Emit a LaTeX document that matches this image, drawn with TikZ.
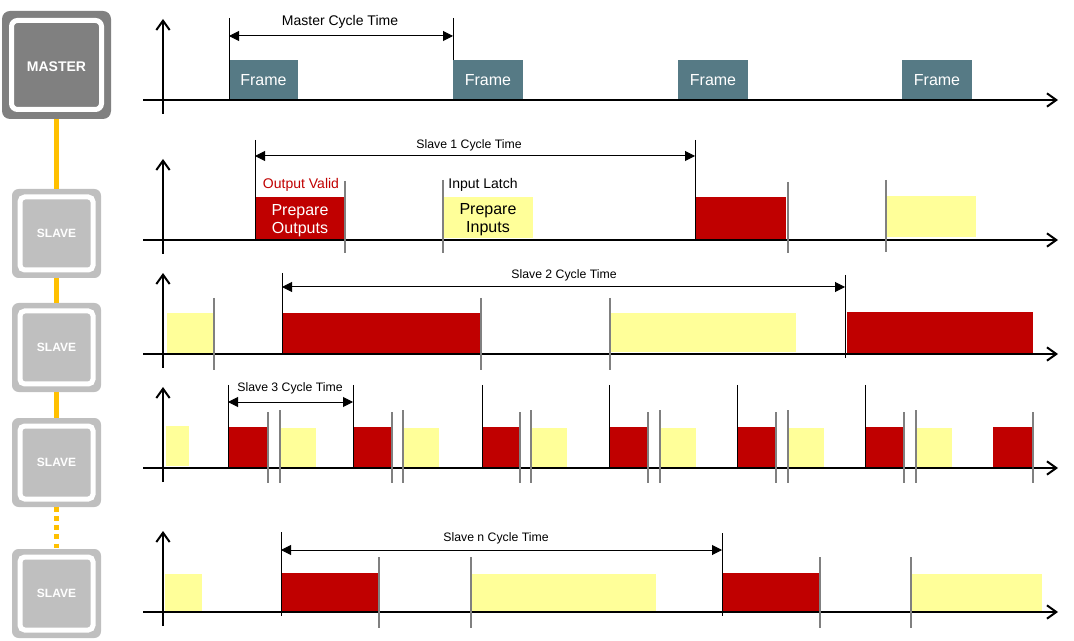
\documentclass[tikz,border=0pt]{standalone}
\usepackage{fontspec}
\setmainfont{Liberation Sans}
\usetikzlibrary{arrows.meta}
\definecolor{mgray}{HTML}{808080}
\definecolor{sgray}{HTML}{BFBFBF}
\definecolor{linkc}{HTML}{FFC000}
\definecolor{teal}{HTML}{567A85}
\definecolor{dred}{HTML}{C00000}
\definecolor{lyel}{HTML}{FFFF99}
\definecolor{mgrayline}{HTML}{808080}
\newcommand{\blk}[7]{\node[#6,anchor=north west,minimum width={(#4-(#2))*0.75pt},minimum height={(#5-(#3))*0.75pt}] (#1) at (#2,#3) {#7};}
\newcommand{\bline}[3]{\draw[blackmark] (#1,#2) -- (#1,#3);}
\newcommand{\gline}[3]{\draw[graymark] (#1,#2) -- (#1,#3);}
\newcommand{\axes}[1]{\draw[axis] (143,#1) -- (1058,#1); \draw[axis] (163,#1+14) -- (163,#1-81);}
\tikzset{
  box/.style={inner sep=0pt, outer sep=0pt},
  framebox/.style={box, fill=teal, text=white, font=\fontsize{12pt}{13.5pt}\selectfont},
  redbox/.style={box, fill=dred, text=white, align=center, font=\fontsize{12pt}{13.5pt}\selectfont},
  yelbox/.style={box, fill=lyel, text=black, align=center, font=\fontsize{12pt}{13.5pt}\selectfont},
  boxtext/.style={inner sep=0pt, align=center, yshift=-1.5pt, font=\fontsize{12pt}{14pt}\selectfont},
  axis/.style={line width=1.5pt, -{Straight Barb[length=7pt,width=10pt]}},
  blackmark/.style={line width=0.75pt, black},
  graymark/.style={line width=1.1pt, mgrayline},
  cyc/.style={line width=0.75pt, {Triangle[length=7.5pt,width=7.5pt]}-{Triangle[length=7.5pt,width=7.5pt]}},
  cyclabel/.style={inner sep=0pt, font=\fontsize{9.2pt}{10pt}\selectfont},
  smalllabel/.style={inner sep=0pt, font=\fontsize{10.5pt}{12pt}\selectfont},
  outerm/.style={fill=mgray, rounded corners=6pt, minimum width=81.75pt, minimum height=81pt, inner sep=0pt},
  innerm/.style={fill=mgray, draw=white, line width=3.75pt, rounded corners=4.5pt, minimum width=67.5pt, minimum height=66.75pt, inner sep=0pt},
  mtext/.style={inner sep=0pt, yshift=-1pt, text=white, font=\bfseries\fontsize{10.5pt}{12pt}\selectfont},
  outers/.style={fill=sgray, rounded corners=5pt, minimum width=66.75pt, minimum height=66.75pt, inner sep=0pt},
  inners/.style={fill=sgray, draw=white, line width=3.75pt, rounded corners=3.5pt, minimum width=54.75pt, minimum height=54.75pt, inner sep=0pt, text=white, font=\bfseries\fontsize{9pt}{10pt}\selectfont},
  link/.style={line width=3.75pt, linkc},
  dlink/.style={link, dash pattern=on 3.4pt off 3.4pt},
}
\begin{document}
\begin{tikzpicture}[x=0.75pt,y=-0.75pt]
\useasboundingbox (0,0) rectangle (1074,641);
% ---------- left column ----------
\node[outerm] (master) at (56.5,65) {};
\node[innerm, label={[mtext]center:MASTER}] (masterin) at (master.center) {};
\node[outers] (s1) at (56.5,233.5) {};
\node[inners] (s1i) at (s1.center) {SLAVE};
\node[outers] (s2) at (56.5,347.5) {};
\node[inners] (s2i) at (s2.center) {SLAVE};
\node[outers] (s3) at (56.5,462.5) {};
\node[inners] (s3i) at (s3.center) {SLAVE};
\node[outers] (s4) at (56.5,593.5) {};
\node[inners] (s4i) at (s4.center) {SLAVE};
\draw[link] (master.south) -- (s1.north);
\draw[link] (s1.south) -- (s2.north);
\draw[link] (s2.south) -- (s3.north);
\draw[dlink] (s3.south) -- (s4.north);
% ---------- master row ----------
\blk{f1}{229}{60}{298}{100}{framebox}{Frame}
\blk{f2}{453}{60}{523}{100}{framebox}{Frame}
\blk{f3}{678}{60}{748}{100}{framebox}{Frame}
\blk{f4}{902}{60}{972}{100}{framebox}{Frame}
\axes{100}
\bline{229}{18}{100}
\bline{453}{18}{60}
\coordinate (ma) at (229,36);
\coordinate (mb) at (453,36);
\draw[cyc] (ma) -- (mb);
\node[smalllabel] (mlab) at (340,21.5) {Master Cycle Time};
% ---------- slave 1 row ----------
\blk{r11}{255}{197}{345}{240}{redbox}{}
\node[boxtext, text=white] (r11t) at (r11.center) {Prepare\\Outputs};
\blk{y11}{443}{197}{533}{238}{yelbox}{}
\node[boxtext, text=black] (y11t) at (y11.center) {Prepare\\Inputs};
\blk{r12}{696}{197}{786}{240}{redbox}{}
\blk{y12}{887}{196}{976}{237}{yelbox}{}
\axes{240}
\bline{255}{140}{240}
\bline{695}{140}{240}
\gline{345}{181}{253}
\gline{443}{180}{253}
\gline{788}{182}{253}
\gline{886}{180}{252}
\coordinate (s1a) at (255,156);
\coordinate (s1b) at (695,156);
\draw[cyc] (s1a) -- (s1b);
\node[cyclabel] (s1lab) at (469,145) {Slave 1 Cycle Time};
\node[smalllabel, text=dred] (ov) at (301,184.5) {Output Valid};
\node[smalllabel] (il) at (483,184.5) {Input Latch};
% ---------- slave 2 row ----------
\blk{y21}{167}{313}{213}{353}{yelbox}{}
\blk{r21}{282}{313}{481}{354}{redbox}{}
\blk{y22}{611}{313}{796}{352}{yelbox}{}
\blk{r22}{847}{312}{1033}{354}{redbox}{}
\axes{354}
\gline{214}{298}{370}
\bline{282}{273}{354}
\gline{481}{298}{370}
\gline{610}{298}{370}
\bline{845}{275}{358}
\coordinate (s2a) at (282,287);
\coordinate (s2b) at (845,287);
\draw[cyc] (s2a) -- (s2b);
\node[cyclabel] (s2lab) at (564,275) {Slave 2 Cycle Time};
% ---------- slave 3 row ----------
\blk{y30}{166}{426}{189}{466}{yelbox}{}
\foreach \x/\e/\g/\ye [count=\i] in {228/268/280/316,353/392/403/439,482/520/531/567,609/648/660/696,737/776/788/824,865/904/916/952}{
  \blk{r3\i}{\x}{427}{\e}{468}{redbox}{}
  \blk{y3\i}{\g+1}{428}{\ye}{467}{yelbox}{}
}
\blk{r37}{993}{427}{1033}{468}{redbox}{}
\axes{468}
\foreach \x/\e/\g in {228/268/280,353/392/403,482/520/531,609/648/660,737/776/788,865/904/916}{
  \bline{\x}{385}{468}
  \gline{\e}{412}{483}
  \gline{\g}{410}{483}
}
\gline{1033}{412}{483}
\coordinate (s3a) at (228,402);
\coordinate (s3b) at (353,402);
\draw[cyc] (s3a) -- (s3b);
\node[cyclabel] (s3lab) at (290,388) {Slave 3 Cycle Time};
% ---------- slave n row ----------
\blk{y41}{165}{574}{202}{612}{yelbox}{}
\blk{r41}{281}{573}{379}{612}{redbox}{}
\blk{y42}{472}{574}{656}{612}{yelbox}{}
\blk{r42}{722}{573}{820}{612}{redbox}{}
\blk{y43}{912}{574}{1042}{612}{yelbox}{}
\axes{612}
\bline{281}{532}{616}
\gline{379}{557}{628}
\gline{471}{557}{628}
\bline{722}{533}{616}
\gline{820}{557}{628}
\gline{911}{557}{628}
\coordinate (s4a) at (281,550);
\coordinate (s4b) at (722,550);
\draw[cyc] (s4a) -- (s4b);
\node[cyclabel] (s4lab) at (496,538) {Slave n Cycle Time};
\end{tikzpicture}
\end{document}
